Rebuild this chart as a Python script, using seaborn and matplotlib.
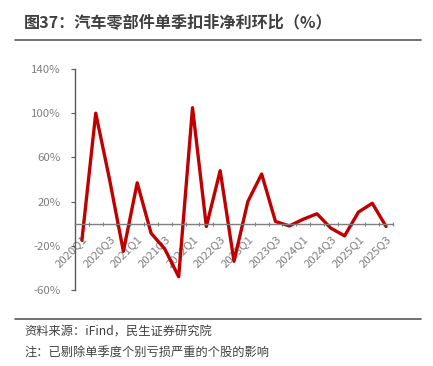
import numpy as np
import pandas as pd
import matplotlib
matplotlib.use("Agg")
import matplotlib.pyplot as plt
import seaborn as sns
from matplotlib.ticker import FixedLocator

quarters = ["2020Q1", "2020Q2", "2020Q3", "2020Q4",
            "2021Q1", "2021Q2", "2021Q3", "2021Q4",
            "2022Q1", "2022Q2", "2022Q3", "2022Q4",
            "2023Q1", "2023Q2", "2023Q3", "2023Q4",
            "2024Q1", "2024Q2", "2024Q3", "2024Q4",
            "2025Q1", "2025Q2", "2025Q3"]
qoq = [-15, 100, 40, -25,
       37, -8.5, -23, -48,
       105, -2.5, 48, -34,
       20, 45, 2, -2,
       4, 9, -4, -11,
       10.5, 18.5, -2.5]
yticks = [-60, -20, 20, 60, 100, 140]

title = "图37：汽车零部件单季扣非净利环比（%）"
source = "资料来源：iFind，民生证券研究院"
note = "注：已剔除单季度个别亏损严重的个股的影响"

sns.set_theme(style="white")
plt.rcParams["font.family"] = ["Noto Sans CJK SC", "DejaVu Sans"]

df = pd.DataFrame({"quarter": quarters, "qoq": qoq})

fig = plt.figure(figsize=(4.33, 3.66), dpi=100)
W, H = 433, 366
ax = fig.add_axes([75 / W, 1 - 290 / H, (393 - 75) / W, (290 - 69) / H])

sns.lineplot(data=df, x="quarter", y="qoq", ax=ax, color="#C00000",
             linewidth=2.4, sort=False)

ax.set_xlim(-0.5, len(quarters) - 0.5)
ax.set_ylim(-60, 140)
ax.set_yticks(yticks)
ax.set_yticklabels([f"{v}%" for v in yticks])
ax.set_xlabel("")
ax.set_ylabel("")

# x axis sits on zero
for s in ["top", "right"]:
    ax.spines[s].set_visible(False)
ax.spines["bottom"].set_position(("data", 0))
ax.spines["bottom"].set_color("#7f7f7f")
ax.spines["left"].set_color("#595959")
ax.spines["bottom"].set_linewidth(1.0)
ax.spines["left"].set_linewidth(1.0)

idx = np.arange(len(quarters))
ax.set_xticks(idx[::2])
ax.set_xticklabels(quarters[::2], rotation=45, ha="right",
                   rotation_mode="anchor", fontsize=8.2, color="#7f7f7f")
ax.xaxis.set_minor_locator(FixedLocator(np.arange(-0.5, len(quarters), 1)))
ax.tick_params(axis="x", which="major", length=0, pad=7)
ax.tick_params(axis="x", which="minor", length=3, width=0.8,
               color="#7f7f7f", direction="inout", bottom=True)
ax.tick_params(axis="y", which="major", length=3, width=0.8, color="#595959",
               left=True, labelsize=8.2, labelcolor="#7f7f7f", pad=7)

fig.text(24 / W, 1 - 22 / H, title, fontsize=11.6, fontweight="bold",
         color="#404040", va="center", ha="left")
fig.add_artist(plt.Line2D([15 / W, 421 / W], [1 - 40 / H, 1 - 40 / H],
                          color="#595959", linewidth=1.2))
fig.add_artist(plt.Line2D([15 / W, 421 / W], [1 - 319 / H, 1 - 319 / H],
                          color="#595959", linewidth=1.2))
fig.text(24 / W, 1 - 332 / H, source, fontsize=8.8, color="#404040",
         va="center", ha="left")
fig.text(24 / W, 1 - 353 / H, note, fontsize=8.8, color="#404040",
         va="center", ha="left")

fig.savefig("out.png", dpi=100)
